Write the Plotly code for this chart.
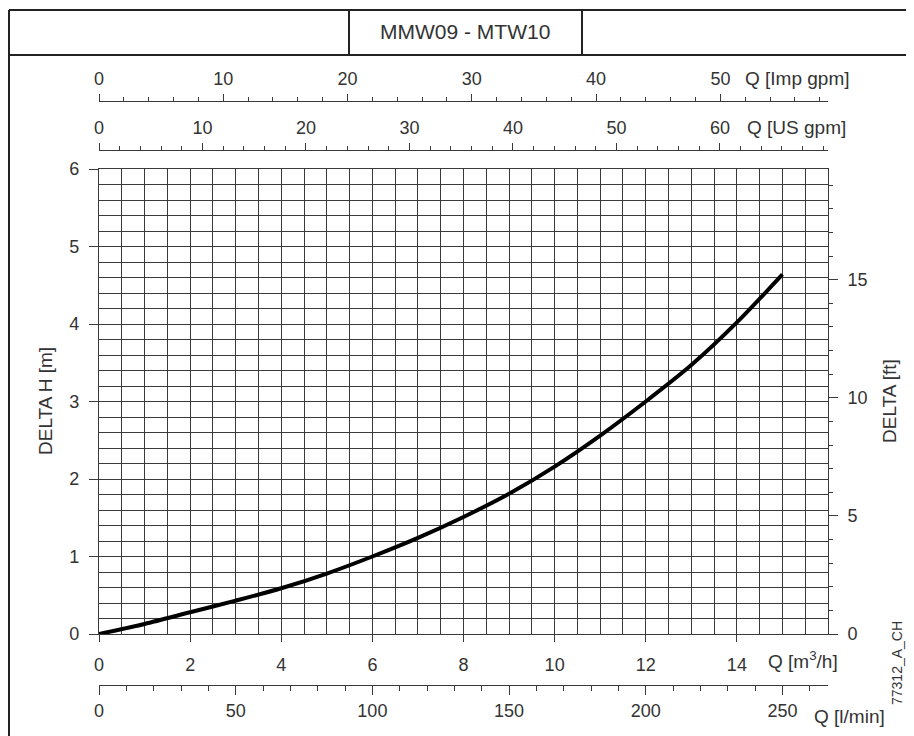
import plotly.graph_objects as go

# ---- data ----
q_m3h = [0, 1, 2, 3, 4, 5, 6, 7, 8, 9, 10, 11, 12, 13, 14, 15]
delta_h_m = [0, 0.13, 0.28, 0.43, 0.59, 0.78, 1.0, 1.24, 1.51, 1.81, 2.16, 2.56, 3.0, 3.47, 4.02, 4.64]

x_ticks_m3h = [0, 2, 4, 6, 8, 10, 12, 14]
y_ticks_m = [0, 1, 2, 3, 4, 5, 6]
y_ticks_ft = [0, 5, 10, 15]
ticks_imp = [0, 10, 20, 30, 40, 50]
ticks_us = [0, 10, 20, 30, 40, 50, 60]
ticks_lmin = [0, 50, 100, 150, 200, 250]

title_text = "MMW09 - MTW10"
Q_MAX = 16
H_MAX = 6
M_TO_FT = 3.28084
M3H_TO_IMP = 3.66614
M3H_TO_US = 4.40287
M3H_TO_LMIN = 16.6667

# the page body adds an 8px offset; size the figure so it fits the window
OFF = 8
W, H = 914 - OFF, 736 - OFF
def fx(p): return (p - OFF) / W
def fy(p): return 1 - (p - OFF) / H

FONT = "Liberation Sans, Arial, sans-serif"
TXT = "#333333"
GRID = "#3a3a3a"
tickfont = dict(family=FONT, size=18, color=TXT)

fig = go.Figure()
fig.add_trace(go.Scatter(x=q_m3h, y=delta_h_m, mode="lines",
                         line=dict(color="black", width=4, shape="spline", smoothing=0.8),
                         showlegend=False, hoverinfo="skip"))
# empty traces to bind the extra axes
fig.add_trace(go.Scatter(x=[None], y=[None], xaxis="x2", yaxis="y", showlegend=False, hoverinfo="skip"))
fig.add_trace(go.Scatter(x=[None], y=[None], xaxis="x3", yaxis="y", showlegend=False, hoverinfo="skip"))
fig.add_trace(go.Scatter(x=[None], y=[None], xaxis="x4", yaxis="y", showlegend=False, hoverinfo="skip"))
fig.add_trace(go.Scatter(x=[None], y=[None], xaxis="x", yaxis="y2", showlegend=False, hoverinfo="skip"))

xdom = [fx(99), fx(828)]
ydom = [fy(634), fy(169)]

common = dict(automargin=False, zeroline=False, tickfont=tickfont, linecolor=GRID, tickcolor=GRID)

fig.update_layout(
    template="none",
    width=W, height=H,
    margin=dict(l=0, r=0, t=0, b=0),
    paper_bgcolor="white", plot_bgcolor="white",
    showlegend=False,
    xaxis=dict(domain=xdom, range=[0, Q_MAX], tickvals=x_ticks_m3h, ticks="outside", ticklen=7,
               ticklabelstandoff=7,
               showgrid=True, gridcolor=GRID, gridwidth=1.4,
               minor=dict(dtick=0.5, showgrid=True, gridcolor=GRID, gridwidth=1.4, ticks=""),
               showline=True, mirror=True, linewidth=1.4, **common),
    yaxis=dict(domain=ydom, range=[0, H_MAX], tickvals=y_ticks_m, ticks="outside", ticklen=9,
               ticklabelstandoff=6,
               showgrid=True, gridcolor=GRID, gridwidth=1.4,
               minor=dict(dtick=0.2, showgrid=True, gridcolor=GRID, gridwidth=1.4, ticks=""),
               showline=True, mirror=True, linewidth=1.4, **common),
    yaxis2=dict(overlaying="y", side="right", anchor="x", range=[0, H_MAX * M_TO_FT], tickvals=y_ticks_ft,
                ticks="outside", ticklen=9, ticklabelstandoff=6, showgrid=False,
                minor=dict(dtick=1, ticks="outside", ticklen=4, tickcolor=GRID, showgrid=False),
                showline=False, **common),
    xaxis2=dict(overlaying="x", anchor="free", position=fy(101), side="top",
                range=[0, Q_MAX * M3H_TO_IMP], tickvals=ticks_imp, ticks="outside", ticklen=7,
                ticklabelstandoff=2, showgrid=False,
                minor=dict(dtick=2, ticks="outside", ticklen=4, tickcolor=GRID, showgrid=False),
                showline=True, linewidth=1.4, **common),
    xaxis3=dict(overlaying="x", anchor="free", position=fy(150), side="top",
                range=[0, Q_MAX * M3H_TO_US], tickvals=ticks_us, ticks="outside", ticklen=7,
                ticklabelstandoff=2, showgrid=False,
                minor=dict(dtick=2, ticks="outside", ticklen=4, tickcolor=GRID, showgrid=False),
                showline=True, linewidth=1.4, **common),
    xaxis4=dict(overlaying="x", anchor="free", position=fy(685), side="bottom",
                range=[0, Q_MAX * M3H_TO_LMIN], tickvals=ticks_lmin, ticks="outside", ticklen=9,
                ticklabelstandoff=0, showgrid=False,
                minor=dict(dtick=10, ticks="outside", ticklen=5, tickcolor=GRID, showgrid=False),
                showline=True, linewidth=1.4, **common),
)

ann = [
    dict(text=title_text, x=fx(465), y=fy(32), size=21),
    dict(text="Q [Imp gpm]", x=fx(797), y=fy(79), size=19),
    dict(text="Q [US gpm]", x=fx(796), y=fy(128), size=19),
    dict(text="Q [m<sup>3</sup>/h]", x=fx(803), y=fy(660), size=19),
    dict(text="Q [l/min]", x=fx(849), y=fy(716), size=19),
    dict(text="DELTA H [m]", x=fx(45), y=fy(401), size=19, angle=-90),
    dict(text="DELTA [ft]", x=fx(889), y=fy(401), size=19, angle=-90),
    dict(text="77312_A_CH", x=fx(897), y=fy(663), size=14, angle=-90),
]
for a in ann:
    fig.add_annotation(text=a["text"], x=a["x"], y=a["y"], xref="paper", yref="paper",
                       showarrow=False, xanchor="center", yanchor="middle",
                       textangle=a.get("angle", 0),
                       font=dict(family=FONT, size=a["size"], color=TXT))

LC = "#222222"
shapes = [
    dict(x0=fx(9), x1=1, y0=fy(10), y1=fy(10)),
    dict(x0=fx(9), x1=1, y0=fy(55), y1=fy(55)),
    dict(x0=fx(349), x1=fx(349), y0=fy(10), y1=fy(55)),
    dict(x0=fx(582), x1=fx(582), y0=fy(10), y1=fy(55)),
    dict(x0=fx(9), x1=fx(9), y0=fy(10), y1=0),
]
for s in shapes:
    fig.add_shape(type="line", xref="paper", yref="paper", line=dict(color=LC, width=2), **s)

fig.write_html("out.html")
